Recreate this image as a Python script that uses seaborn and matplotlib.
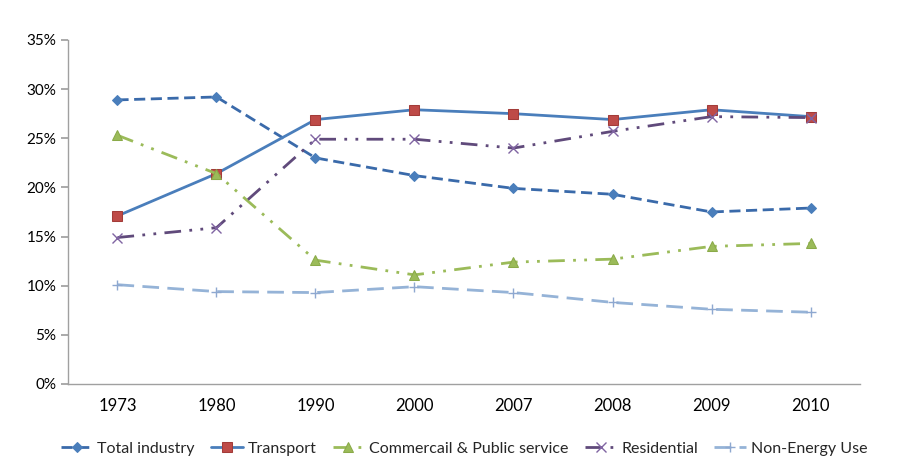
import matplotlib
matplotlib.use("Agg")
import matplotlib.pyplot as plt
import seaborn as sns
import pandas as pd
from matplotlib.ticker import PercentFormatter, FixedLocator

years = ["1973", "1980", "1990", "2000", "2007", "2008", "2009", "2010"]
total_industry = [28.9, 29.2, 23.0, 21.2, 19.9, 19.3, 17.5, 17.9]
transport = [17.1, 21.4, 26.9, 27.9, 27.5, 26.9, 27.9, 27.2]
commercial = [25.3, 21.4, 12.6, 11.1, 12.4, 12.7, 14.0, 14.3]
residential = [14.9, 15.9, 24.9, 24.9, 24.0, 25.7, 27.2, 27.1]
non_energy = [10.1, 9.4, 9.3, 9.9, 9.3, 8.3, 7.6, 7.3]

sns.set_theme(style="white")
plt.rcParams['font.family'] = ['Lato', 'DejaVu Sans']

fig = plt.figure(figsize=(8.98, 4.70), dpi=100)
ax = fig.add_axes([0.0757, 0.183, 0.882, 0.732])

series = [
    ("Total industry", total_industry, dict(color="#3A6AAA", linestyle=(0, (4, 2)), marker="D", markersize=5,
                                            markerfacecolor="#4A7EBB", markeredgecolor="#4A7EBB")),
    ("Transport", transport, dict(color="#4A7EBB", linestyle="-", marker="s", markersize=7,
                                  markerfacecolor="#BE4B48", markeredgecolor="#A33C39")),
    ("Commercail & Public service", commercial, dict(color="#9BBB59", linestyle=(0, (6, 3, 1, 3, 1, 3)), marker="^",
                                                     markersize=7, markerfacecolor="#9BBB59", markeredgecolor="#8AAA48")),
    ("Residential", residential, dict(color="#604A7B", linestyle=(0, (6, 3, 1, 3, 1, 3)), marker="x", markersize=7,
                                      markeredgecolor="#8064A2", markeredgewidth=1)),
    ("Non-Energy Use", non_energy, dict(color="#95B3D7", linestyle=(0, (6, 3)), marker="+", markersize=7,
                                        markeredgecolor="#8EA8D0", markeredgewidth=1)),
]

for name, vals, kw in series:
    df = pd.DataFrame({"year": years, "value": vals})
    sns.lineplot(data=df, x="year", y="value", ax=ax, label=name, linewidth=2, sort=False, **kw)

ax.set_xlim(-0.5, len(years) - 0.5)
ax.set_ylim(0, 35)
ax.set_yticks(range(0, 36, 5))
ax.yaxis.set_major_formatter(PercentFormatter(decimals=0))
ax.set_xticks(range(len(years)))
ax.set_xticklabels(years)
ax.set_xlabel("")
ax.set_ylabel("")
ax.xaxis.set_minor_locator(FixedLocator([i - 0.5 for i in range(len(years) + 1)]))
ax.tick_params(axis="x", which="major", length=0, labelsize=12, pad=10, colors="black")
ax.tick_params(axis="x", which="minor", length=5, color="#A0A0A0", direction="out")
ax.tick_params(axis="y", length=5, color="#A0A0A0", direction="out", labelsize=11, colors="black", left=True)
for s in ["top", "right"]:
    ax.spines[s].set_visible(False)
for s in ["left", "bottom"]:
    ax.spines[s].set_color("#A0A0A0")
    ax.spines[s].set_linewidth(1)

ax.legend(loc="upper center", bbox_to_anchor=(0.5, -0.125), ncol=5, frameon=False, fontsize=11.5,
          handlelength=2.0, columnspacing=1.0, handletextpad=0.3)

fig.savefig("out.png", dpi=100)
